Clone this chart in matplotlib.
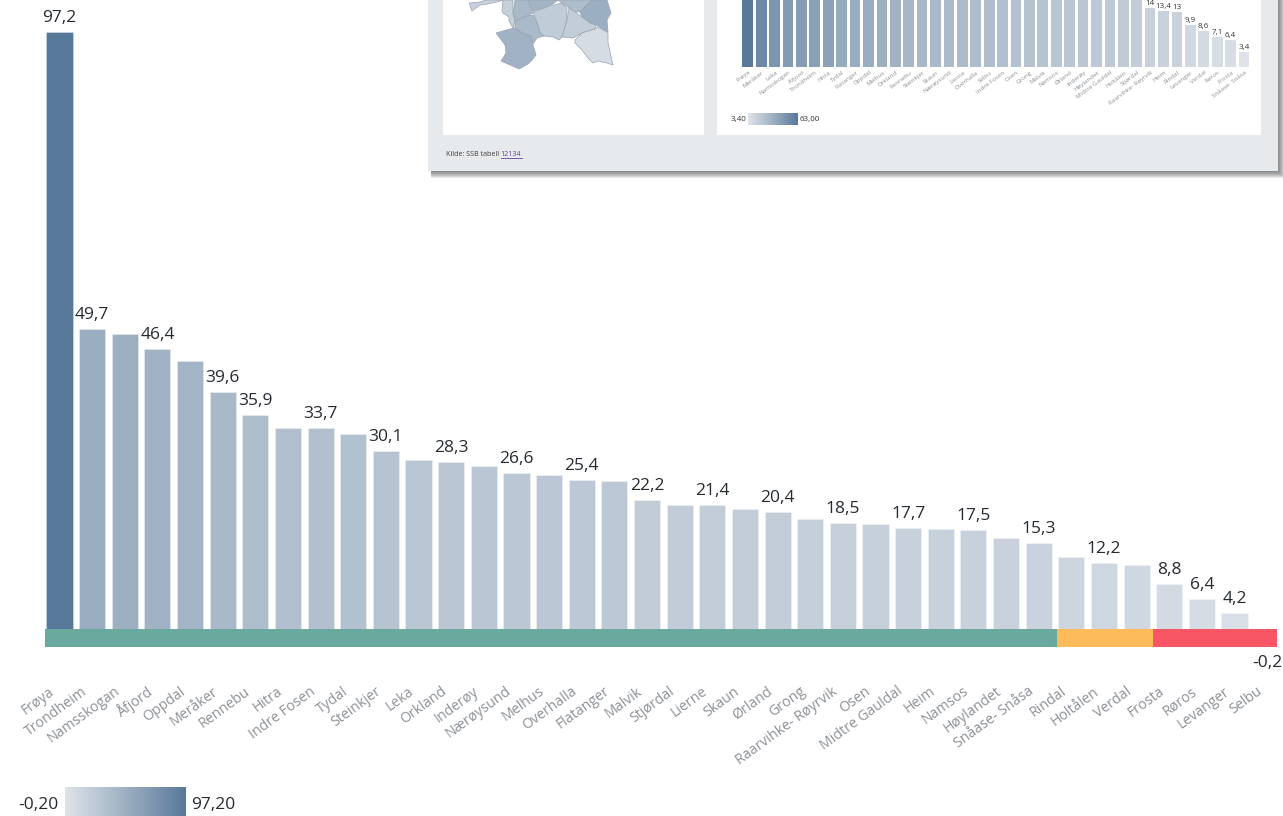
import numpy as np
import matplotlib
matplotlib.use("Agg")
import matplotlib.pyplot as plt
from matplotlib.colors import LinearSegmentedColormap, Normalize
from matplotlib.patches import Polygon, Rectangle

plt.rcParams['font.family'] = ['Open Sans', 'DejaVu Sans']

W, H = 1283, 816

# main chart
kommuner = ["Frøya", "Trondheim", "Namsskogan", "Åfjord", "Oppdal", "Meråker", "Rennebu", "Hitra",
            "Indre Fosen", "Tydal", "Steinkjer", "Leka", "Orkland", "Inderøy", "Nærøysund", "Melhus",
            "Overhalla", "Flatanger", "Malvik", "Stjørdal", "Lierne", "Skaun", "Ørland", "Grong",
            "Raarvihke- Røyrvik", "Osen", "Midtre Gauldal", "Heim", "Namsos", "Høylandet",
            "Snåase- Snåsa", "Rindal", "Holtålen", "Verdal", "Frosta", "Røros", "Levanger", "Selbu"]
verdier = [97.2, 49.7, 48.8, 46.4, 44.5, 39.6, 35.9, 33.7, 33.7, 32.8, 30.1, 28.7, 28.3, 27.7, 26.6,
           26.2, 25.4, 25.3, 22.2, 21.5, 21.4, 20.8, 20.4, 19.2, 18.5, 18.4, 17.7, 17.6, 17.5, 16.2,
           15.3, 13.1, 12.2, 11.8, 8.8, 6.4, 4.2, -0.2]
merket = ["Frøya", "Trondheim", "Åfjord", "Meråker", "Rennebu", "Indre Fosen", "Steinkjer", "Orkland",
          "Nærøysund", "Overhalla", "Malvik", "Lierne", "Ørland", "Raarvihke- Røyrvik", "Midtre Gauldal",
          "Namsos", "Snåase- Snåsa", "Holtålen", "Frosta", "Røros", "Levanger", "Selbu"]
gruppe_antall = [31, 2.95, 3.8]
gruppe_farger = ["#6aa99e", "#fdbb5c", "#f85664"]

# the screenshot of the other report page in the top right corner
inn_kommuner = ["Frøya", "Meråker", "Leka", "Namsskogan", "Åfjord", "Trondheim", "Hitra", "Tydal",
                "Flatanger", "Oppdal", "Melhus", "Orkland", "Rennebu", "Steinkjer", "Skaun", "Nærøysund",
                "Lierne", "Overhalla", "Selbu", "Indre Fosen", "Osen", "Grong", "Malvik", "Namsos",
                "Ørland", "Inderøy", "Høylandet", "Midtre Gauldal", "Holtålen", "Stjørdal",
                "Raarvihke- Røyrvik", "Heim", "Rindal", "Levanger", "Verdal", "Røros", "Frosta",
                "Snåase- Snåsa"]
inn_verdier = [63.0, 54.0, 47.0, 44.0, 43.0, 42.0, 41.0, 36.0, 35.0, 34.0, 33.0, 32.0, 29.0, 28.5, 28.0,
               27.0, 26.0, 25.5, 25.0, 24.0, 23.0, 22.5, 22.0, 21.0, 20.5, 20.0, 19.0, 18.5, 17.5, 16.5,
               14.0, 13.4, 13.0, 9.9, 8.6, 7.1, 6.4, 3.4]
inn_merket = inn_kommuner[30:]

# map outlines in pixels
kart = [
    ([(469, 3), (480, 2), (486, 0), (503, 0), (497, 2), (487, 4), (480, 5), (472, 11)], "#c9d2dc"),
    ([(503, 0), (513, 0), (513, 13), (515, 21), (513, 28), (509, 21), (509, 17), (503, 13), (502, 10)], "#c6d0da"),
    ([(515, 0), (529, 0), (529, 3), (533, 13), (527, 16), (515, 21), (513, 13)], "#a9b9c9"),
    ([(529, 0), (558, 0), (553, 4), (543, 8), (533, 11), (529, 3)], "#a3b4c5"),
    ([(558, 0), (592, 0), (580, 12), (575, 12), (569, 8), (567, 6), (562, 3)], "#aebdcc"),
    ([(580, 12), (592, 0), (607, 0), (611, 13), (607, 20), (608, 32), (596, 25), (590, 23), (582, 17)], "#9aafc2"),
    ([(515, 21), (527, 16), (533, 15), (538, 25), (540, 32), (544, 36), (537, 38), (533, 44), (531, 36),
      (522, 33), (515, 28)], "#aabaca"),
    ([(533, 12), (550, 6), (562, 3), (567, 8), (567, 20), (562, 37), (559, 40), (553, 37), (544, 36),
      (540, 32), (538, 25)], "#c0ccd7"),
    ([(569, 8), (575, 12), (582, 17), (590, 23), (596, 25), (595, 29), (582, 33), (573, 38), (562, 37),
      (567, 20)], "#c2cdd8"),
    ([(575, 40), (582, 33), (595, 29), (598, 27), (608, 33), (608, 43), (613, 65), (607, 63), (598, 61),
      (593, 63), (588, 58), (582, 50), (575, 43)], "#d6dce4"),
    ([(496, 33), (510, 29), (515, 28), (522, 33), (531, 36), (533, 45), (536, 55), (532, 60), (528, 64),
      (519, 69), (510, 65), (501, 61), (506, 53), (505, 45)], "#a0b2c4"),
]

farger = LinearSegmentedColormap.from_list("blaa", [(0, "#dfe3e9"), (0.5, "#9db0c2"), (1, "#58789a")])


def full_ax(zorder):
    ax = fig.add_axes([0, 0, 1, 1], zorder=zorder)
    ax.patch.set_alpha(0)
    ax.axis("off")
    return ax


def set_scale(ax, x0, dx, y0, dy):
    # x0, y0 = pixel of category 0 and value 0, dx, dy = pixels per unit
    ax.set_xlim(-x0 / dx, (W - x0) / dx)
    ax.set_ylim((y0 - H) / dy, y0 / dy)


fig = plt.figure(figsize=(W / 100, H / 100), dpi=100, facecolor="white")

# --- main bars
ax = full_ax(1)
dx, dy = 32.64, 6.247
set_scale(ax, 59.5, dx, 639, dy)
norm = Normalize(min(verdier), max(verdier))
x = np.arange(len(verdier))
ax.bar(x, verdier, width=0.8, color=farger(norm(verdier)), edgecolor="#ffffff55", linewidth=0.6)

for i, navn in enumerate(kommuner):
    ax.text(i - 0.2, -51 / dy, navn, rotation=36, rotation_mode="anchor", ha="right", va="center",
            fontsize=10.2, color="#8c9197")
    if navn in merket:
        v = verdier[i]
        y = v + 10 / dy if v > 0 else v - 27 / dy
        ax.text(i, y, f"{v:g}".replace(".", ","), ha="center", va="baseline", fontsize=12.5,
                color="#252a30", zorder=5)

# green / yellow / red band along the axis, covers y 629-647 in the picture
start = -0.45
for n, c in zip(gruppe_antall, gruppe_farger):
    ax.add_patch(Rectangle((start, -8 / dy), n, 18 / dy, color=c, lw=0, zorder=4))
    start += n

# main legend
ax.imshow(np.linspace(0, 1, 256)[None, :], cmap=farger, aspect="auto", zorder=3,
          extent=[(65 - 59.5) / dx, (186 - 59.5) / dx, (639 - 816) / dy, (639 - 787) / dy])
set_scale(ax, 59.5, dx, 639, dy)
ax.text((58 - 59.5) / dx, (639 - 805) / dy, "-0,20", ha="right", va="center", fontsize=12.5, color="#252a30")
ax.text((191 - 59.5) / dx, (639 - 805) / dy, "97,20", ha="left", va="center", fontsize=12.5, color="#252a30")

# --- grey panel, shadow, white boxes and map, all in pixels
px = full_ax(2)
px.set_xlim(0, W)
px.set_ylim(H, 0)
for grow in range(1, 8):
    px.add_patch(Rectangle((431, 0), 847 + grow, 171 + grow, color="#3a3a3a", alpha=0.11, lw=0))
px.add_patch(Rectangle((428, 0), 850, 171, color="#e7eaed", lw=0))
px.add_patch(Rectangle((443, 0), 261, 134.5, color="white", lw=0))
px.add_patch(Rectangle((717, 0), 544, 134.5, color="white", lw=0))
for punkter, c in kart:
    px.add_patch(Polygon(punkter, closed=True, facecolor=c, edgecolor="#98a3af", linewidth=0.5))
px.text(446, 154, "Kilde: SSB tabell", fontsize=5.1, color="#3c3c3c", va="center", ha="left")
px.text(500.5, 154, "12134", fontsize=5.1, color="#6a3d9a", va="center", ha="left")
px.plot([500.5, 522], [157.5, 157.5], color="#6a3d9a", lw=0.6)

# --- small bars in the screenshot
inn = full_ax(3)
inn_dx, inn_dy = 13.41, 4.19
set_scale(inn, 747.8, inn_dx, 66.7, inn_dy)
inn_norm = Normalize(min(inn_verdier), max(inn_verdier))
inn_x = np.arange(len(inn_verdier))
inn.bar(inn_x, inn_verdier, width=0.8, color=farger(inn_norm(inn_verdier)))
for i, navn in enumerate(inn_kommuner):
    inn.text(i + 0.05, -3 / inn_dy, navn, rotation=37, rotation_mode="anchor", ha="right", va="top",
             fontsize=4.5, color="#8c9197")
    if navn in inn_merket:
        inn.text(i, inn_verdier[i] + 3 / inn_dy, f"{inn_verdier[i]:g}".replace(".", ","), ha="center",
                 va="baseline", fontsize=5.8, color="#333333")
inn.imshow(np.linspace(0, 1, 256)[None, :], cmap=farger, aspect="auto",
           extent=[(748 - 747.8) / inn_dx, (798 - 747.8) / inn_dx, (66.7 - 125) / inn_dy, (66.7 - 113) / inn_dy])
set_scale(inn, 747.8, inn_dx, 66.7, inn_dy)
inn.text((746 - 747.8) / inn_dx, (66.7 - 119.5) / inn_dy, "3,40", ha="right", va="center", fontsize=5.8, color="#333333")
inn.text((799.5 - 747.8) / inn_dx, (66.7 - 119.5) / inn_dy, "63,00", ha="left", va="center", fontsize=5.8, color="#333333")

fig.savefig("out.png", dpi=100)
